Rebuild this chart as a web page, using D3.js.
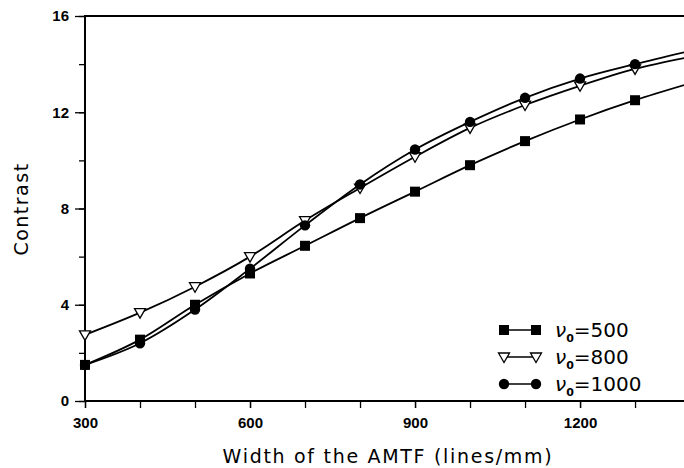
<!DOCTYPE html>
<html>
<head>
<meta charset="utf-8">
<script src="https://cdn.jsdelivr.net/npm/d3@7"></script>
<style>
  body { margin: 0; background: #fff; }
  svg { font-family: "DejaVu Sans", sans-serif; }
</style>
</head>
<body>
<div id="vis-holder"></div>
<script>
// Data
const widths = [300, 400, 500, 600, 700, 800, 900, 1000, 1100, 1200, 1300, 1400];
const contrast500 = [1.5, 2.55, 4.0, 5.3, 6.45, 7.6, 8.7, 9.8, 10.8, 11.7, 12.5, 13.2];
const contrast800 = [2.75, 3.67, 4.75, 6.0, 7.5, 8.85, 10.15, 11.35, 12.3, 13.1, 13.8, 14.3];
const contrast1000 = [1.5, 2.4, 3.8, 5.5, 7.3, 9.0, 10.45, 11.6, 12.6, 13.4, 14.0, 14.55];
const seriesNames = ["500", "800", "1000"];
const xTicks = [300, 600, 900, 1200];
const yTicks = [0, 4, 8, 12, 16];

const width = 684;
const height = 468;
const margin = { top: 16, right: 0, bottom: 67, left: 85 };

const svg = d3.select("#vis-holder")
  .append("svg")
  .attr("width", width)
  .attr("height", height);

// Scales
const x = d3.scaleLinear()
  .domain([300, 1389])
  .range([margin.left, width - margin.right]);

const y = d3.scaleLinear()
  .domain([0, 16])
  .range([height - margin.bottom, margin.top]);

// Y axis with minor ticks
svg.append("g")
  .attr("transform", `translate(${margin.left},0)`)
  .call(d3.axisLeft(y).tickValues(d3.range(0, 17, 2)).tickSize(6).tickFormat(""))
  .call((g) => g.select(".domain").remove())
  .selectAll("line").attr("stroke-width", 1.3);

svg.append("g")
  .attr("transform", `translate(${margin.left},0)`)
  .call(d3.axisLeft(y).tickValues(yTicks).tickSize(10).tickPadding(6).tickFormat(d3.format("d")))
  .attr("font-size", "15px")
  .attr("font-weight", "bold")
  .call((g) => g.select(".domain").remove())
  .call((g) => g.selectAll("line").attr("stroke-width", 1.3));

// X axis
svg.append("g")
  .attr("transform", `translate(0,${height - margin.bottom})`)
  .call(d3.axisBottom(x).tickValues(d3.range(300, 1400, 100)).tickSize(7).tickFormat(""))
  .call((g) => g.select(".domain").remove())
  .selectAll("line").attr("stroke-width", 1.3);

svg.append("g")
  .attr("transform", `translate(0,${height - margin.bottom})`)
  .call(d3.axisBottom(x).tickValues(xTicks).tickSize(7).tickPadding(9).tickFormat(d3.format("d")))
  .attr("font-size", "15px")
  .attr("font-weight", "bold")
  .call((g) => g.select(".domain").remove())
  .call((g) => g.selectAll("line").attr("stroke-width", 1.3));

// Frame lines (left, bottom, top)
svg.append("path")
  .attr("d", `M${width},${y(16)}H${margin.left}V${y(0)}H${width}`)
  .attr("fill", "none")
  .attr("stroke", "black")
  .attr("stroke-width", 2);

// Axis titles
svg.append("text")
  .attr("transform", `translate(28,209) rotate(-90)`)
  .attr("text-anchor", "middle")
  .attr("font-size", "19px")
  .attr("letter-spacing", "1.5px")
  .text("Contrast");

svg.append("text")
  .attr("x", 388)
  .attr("y", 463)
  .attr("text-anchor", "middle")
  .attr("font-size", "19px")
  .attr("letter-spacing", "1.7px")
  .text("Width of the AMTF (lines/mm)");

// Series
const series = [contrast500, contrast800, contrast1000];
const symbols = ["square", "triangle", "circle"];

const line = d3.line()
  .x((d, i) => x(widths[i]))
  .y((d) => y(d))
  .curve(d3.curveMonotoneX);

function drawMarker(g, kind, cx, cy) {
  if (kind === "square") {
    g.append("rect")
      .attr("x", cx - 5).attr("y", cy - 5)
      .attr("width", 10).attr("height", 10)
      .attr("fill", "black");
  } else if (kind === "circle") {
    g.append("circle")
      .attr("cx", cx).attr("cy", cy).attr("r", 5.2)
      .attr("fill", "black");
  } else {
    g.append("path")
      .attr("d", `M${cx - 5.5},${cy - 4}L${cx + 5.5},${cy - 4}L${cx},${cy + 5.5}Z`)
      .attr("fill", "white")
      .attr("stroke", "black")
      .attr("stroke-width", 1.3);
  }
}

series.forEach((vals, k) => {
  svg.append("path")
    .datum(vals)
    .attr("d", line)
    .attr("fill", "none")
    .attr("stroke", "black")
    .attr("stroke-width", 1.8);
});

series.forEach((vals, k) => {
  const g = svg.append("g");
  vals.forEach((v, i) => drawMarker(g, symbols[k], x(widths[i]), y(v)));
});

// Legend
const legend = svg.append("g");
seriesNames.forEach((name, k) => {
  const ly = 330 + k * 27;
  legend.append("line")
    .attr("x1", 504).attr("x2", 536)
    .attr("y1", ly).attr("y2", ly)
    .attr("stroke", "black")
    .attr("stroke-width", 1.5);
  drawMarker(legend, symbols[k], 504, ly);
  drawMarker(legend, symbols[k], 536, ly);
  const t = legend.append("text")
    .attr("x", 555)
    .attr("y", ly + 7)
    .attr("font-size", "20px");
  t.append("tspan").attr("font-style", "italic").text("ν");
  t.append("tspan").attr("font-size", "11px").attr("dy", 5).attr("font-weight", "bold").text("0");
  t.append("tspan").attr("dy", -5).text("=" + name);
});
</script>
</body>
</html>
